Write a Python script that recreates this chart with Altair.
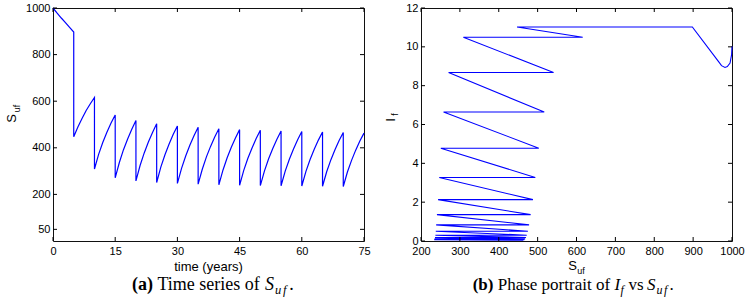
import altair as alt
import pandas as pd

# ---------------- data ----------------
# (a) time series of S_uf, sampled yearly; two samples at each harvest time (drop)
ts_years = [
    0, 1, 2, 3, 4, 5,
    5, 6, 7, 8, 9, 10,
    10, 11, 12, 13, 14, 15,
    15, 16, 17, 18, 19, 20,
    20, 21, 22, 23, 24, 25,
    25, 26, 27, 28, 29, 30,
    30, 31, 32, 33, 34, 35,
    35, 36, 37, 38, 39, 40,
    40, 41, 42, 43, 44, 45,
    45, 46, 47, 48, 49, 50,
    50, 51, 52, 53, 54, 55,
    55, 56, 57, 58, 59, 60,
    60, 61, 62, 63, 64, 65,
    65, 66, 67, 68, 69, 70,
    70, 71, 72, 73, 74, 75,
]
ts_suf = [
    1000, 978, 957, 937, 917, 897,
    447, 489, 526, 560, 589, 616,
    309, 372, 423, 467, 506, 541,
    271, 337, 392, 438, 480, 517,
    258, 324, 378, 425, 466, 503,
    251, 317, 370, 416, 458, 494,
    247, 312, 365, 411, 452, 488,
    244, 308, 361, 406, 446, 482,
    241, 305, 357, 402, 442, 478,
    239, 303, 355, 399, 440, 475,
    238, 301, 353, 397, 437, 472,
    237, 300, 351, 395, 435, 470,
    236, 299, 350, 394, 433, 468,
    235, 297, 348, 392, 431, 466,
    234, 296, 346, 390, 429, 463,
]

# (b) phase portrait vertices, in time order
phase_suf = [1000, 999, 995, 988, 982, 973, 965, 898,
             447, 616, 309, 541, 271, 517, 258, 503, 251, 494, 247, 488,
             244, 482, 241, 478, 239, 475, 238, 472, 237, 470, 236, 468,
             235, 466, 234, 463]
phase_if = [10.03, 9.6, 9.16, 8.98, 8.94, 9.03, 9.25, 11.02,
            11.02, 10.49, 10.49, 8.68, 8.68, 6.64, 6.64, 4.78, 4.78, 3.27, 3.27, 2.13,
            2.13, 1.36, 1.36, 0.83, 0.83, 0.50, 0.50, 0.30, 0.30, 0.18, 0.18, 0.11,
            0.11, 0.07, 0.07, 0.04]

ts_xticks = [0, 15, 30, 45, 60, 75]
ts_yticks = [50, 200, 400, 600, 800, 1000]
ph_xticks = [200, 300, 400, 500, 600, 700, 800, 900, 1000]
ph_yticks = [0, 2, 4, 6, 8, 10, 12]

# ---------------- styling ----------------
W, H = 311, 233
TL = 4  # inward tick length
SANS = "Liberation Sans"
SERIF = "Liberation Serif"
BLUE = "#0000ff"

ts_df = pd.DataFrame({"t": ts_years, "s": ts_suf, "i": range(len(ts_years))})
ph_df = pd.DataFrame({"s": phase_suf, "f": phase_if, "i": range(len(phase_suf))})
one = pd.DataFrame({"k": [0]})


def ax(vals, pad):
    return alt.Axis(values=vals, title=None, grid=False, ticks=False, domain=False,
                    format="d", labelFont=SANS, labelFontSize=11, labelColor="black",
                    labelFlush=False, labelPadding=pad)


def txt(s, x, y, size, font=SANS, angle=0, align="center", baseline="middle",
        weight="normal", style="normal"):
    kw = dict(text=s, fontSize=size, font=font, align=align, baseline=baseline,
              fontWeight=weight, fontStyle=style, color="black")
    if angle:
        kw["angle"] = angle
    return alt.Chart(one).mark_text(**kw).encode(x=alt.value(x), y=alt.value(y))


def ticks(xenc, yenc, xvals, yvals, xfield, yfield):
    xt = pd.DataFrame({xfield: xvals})
    yt = pd.DataFrame({yfield: yvals})
    return [
        alt.Chart(xt).mark_rule(color="black").encode(x=xenc, y=alt.value(H), y2=alt.value(H - TL)),
        alt.Chart(xt).mark_rule(color="black").encode(x=xenc, y=alt.value(0), y2=alt.value(TL)),
        alt.Chart(yt).mark_rule(color="black").encode(y=yenc, x=alt.value(0), x2=alt.value(TL)),
        alt.Chart(yt).mark_rule(color="black").encode(y=yenc, x=alt.value(W), x2=alt.value(W - TL)),
    ]


# ---------------- panel (a) ----------------
xa = alt.X("t:Q", scale=alt.Scale(domain=[0, 75], nice=False, zero=False), axis=ax(ts_xticks, 4))
ya = alt.Y("s:Q", scale=alt.Scale(domain=[0, 1000], nice=False, zero=False), axis=ax(ts_yticks, 3))

line_a = alt.Chart(ts_df).mark_line(color=BLUE, strokeWidth=1.2).encode(x=xa, y=ya, order="i:Q")

cap_y = 282
sub_y = 286
panel_a = alt.layer(
    line_a,
    *ticks(xa, ya, ts_xticks, ts_yticks, "t", "s"),
    txt("S", -41.2, 110.5, 13, angle=270),
    txt("uf", -36.4, 100.5, 9, angle=270),
    txt("time (years)", W / 2, 258.5, 13),
    txt("(a)", 79, cap_y, 18, font=SERIF, align="left", baseline="alphabetic", weight="bold"),
    txt("Time series of", 104.5, cap_y, 18, font=SERIF, align="left", baseline="alphabetic"),
    txt("S", 212, cap_y, 18, font=SERIF, align="left", baseline="alphabetic", style="italic"),
    txt("u", 222, sub_y, 12.5, font=SERIF, align="left", baseline="alphabetic", style="italic"),
    txt("f", 230, sub_y, 12.5, font=SERIF, align="left", baseline="alphabetic", style="italic"),
    txt(".", 236.3, cap_y, 18, font=SERIF, align="left", baseline="alphabetic"),
).properties(width=W, height=H)

# ---------------- panel (b) ----------------
xb = alt.X("s:Q", scale=alt.Scale(domain=[200, 1000], nice=False, zero=False), axis=ax(ph_xticks, 4))
yb = alt.Y("f:Q", scale=alt.Scale(domain=[0, 12], nice=False, zero=False), axis=ax(ph_yticks, 3))

line_b = alt.Chart(ph_df).mark_line(color=BLUE, strokeWidth=1.1).encode(x=xb, y=yb, order="i:Q")

panel_b = alt.layer(
    line_b,
    *ticks(xb, yb, ph_xticks, ph_yticks, "s", "f"),
    txt("I", -30, 112, 13, angle=270),
    txt("f", -26.5, 106.5, 9, angle=270),
    txt("S", 151.7, 258, 13),
    txt("uf", 160, 262.5, 9),
    txt("(b)", 51.7, cap_y, 17, font=SERIF, align="left", baseline="alphabetic", weight="bold"),
    txt("Phase portrait of", 76.7, cap_y, 17, font=SERIF, align="left", baseline="alphabetic"),
    txt("I", 193.4, cap_y, 17, font=SERIF, align="left", baseline="alphabetic", style="italic"),
    txt("f", 199.6, sub_y, 12, font=SERIF, align="left", baseline="alphabetic", style="italic"),
    txt("vs", 207.5, cap_y, 17, font=SERIF, align="left", baseline="alphabetic"),
    txt("S", 226, cap_y, 17, font=SERIF, align="left", baseline="alphabetic", style="italic"),
    txt("u", 235.5, sub_y, 12, font=SERIF, align="left", baseline="alphabetic", style="italic"),
    txt("f", 243, sub_y, 12, font=SERIF, align="left", baseline="alphabetic", style="italic"),
    txt(".", 248.5, cap_y, 17, font=SERIF, align="left", baseline="alphabetic"),
).properties(width=W, height=H)

chart = alt.hconcat(panel_a, panel_b, spacing=57, bounds="flush").properties(
    padding={"left": 5, "top": 1, "right": 0, "bottom": 0},
    background="white",
).configure_view(stroke="#111111", strokeWidth=1)

chart.save("out.html", embed_options={"renderer": "svg", "actions": False})
